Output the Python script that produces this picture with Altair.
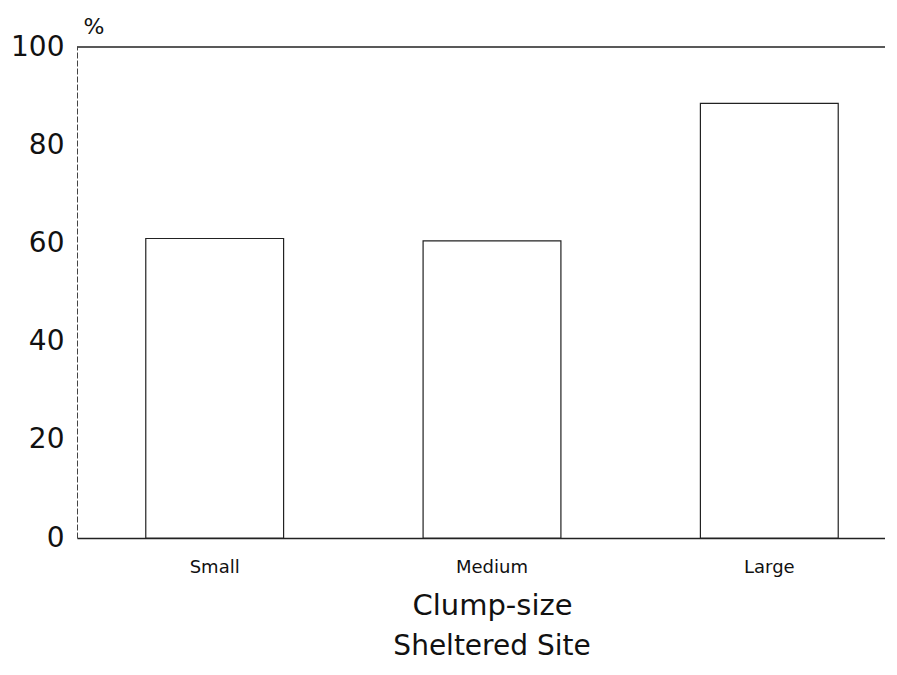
import altair as alt
import pandas as pd

categories = ["Small", "Medium", "Large"]
values = [61.0, 60.5, 88.5]
y_ticks = [0, 20, 40, 60, 80, 100]

df = pd.DataFrame({"size": categories, "pct": values})
FONT = "DejaVu Sans"

bars = alt.Chart(df).mark_bar(fill="white", stroke="#222", strokeWidth=1.2).encode(
    x=alt.X("size:N", sort=categories,
            scale=alt.Scale(range=[0, 830], paddingInner=0.503, paddingOuter=0.248),
            axis=alt.Axis(title="Clump-size", labelAngle=0, ticks=False,
                          labelFontSize=18, labelFont=FONT, labelColor="#111",
                          labelPadding=20, titleFontSize=29, titleFont=FONT,
                          titleFontWeight="normal", titleColor="#111", titlePadding=15,
                          domainColor="#222", domainWidth=1.3)),
    y=alt.Y("pct:Q", scale=alt.Scale(domain=[0, 100], nice=False),
            axis=alt.Axis(values=y_ticks, ticks=False, grid=False, title="%",
                          titleAngle=0, titleX=6, titleY=-14, titleAlign="left",
                          titleBaseline="alphabetic", titleFontSize=22, titleFont=FONT,
                          titleFontWeight="normal", titleColor="#111",
                          labelFontSize=28, labelFont=FONT, labelColor="#111",
                          labelPadding=13, domainColor="#444", domainWidth=1,
                          domainDash=[6, 2])),
)

top = alt.Chart(pd.DataFrame({"v": [100]})).mark_rule(color="#222", strokeWidth=1.3).encode(
    y=alt.Y("v:Q"), x=alt.value(0), x2=alt.value(830)
)

chart = alt.layer(bars, top).properties(
    width=808, height=491,
    autosize=alt.AutoSizeParams(type="none"),
    padding={"left": 69, "top": 39, "right": 0, "bottom": 129},
    title=alt.Title("Sheltered Site", orient="bottom", fontSize=28, font=FONT,
                    fontWeight="normal", color="#111", dx=11, offset=13),
).configure_view(stroke=None)

chart.save("out.html", embed_options={"renderer": "svg", "actions": False})
